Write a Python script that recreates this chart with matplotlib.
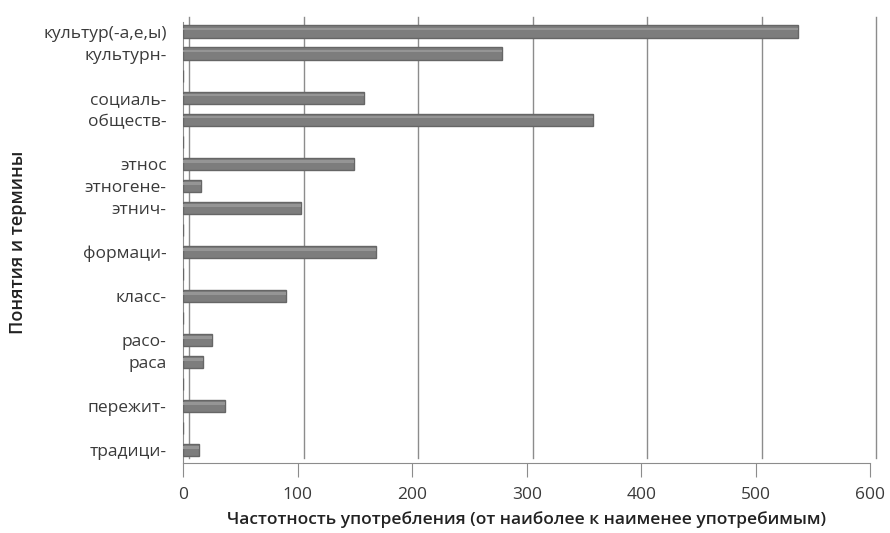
import matplotlib.pyplot as plt
from matplotlib.transforms import ScaledTranslation

plt.rcParams['font.family'] = ['Open Sans', 'DejaVu Sans']

# категории сверху вниз, пустые строки - промежутки между группами
terms = ['культур(-а,е,ы)', 'культурн-', '', 'социаль-', 'обществ-', '',
         'этнос', 'этногене-', 'этнич-', '', 'формаци-', '', 'класс-', '',
         'расо-', 'раса', '', 'пережит-', '', 'традици-']
freq = [537, 278, None, 158, 358, None,
        149, 15, 103, None, 168, None, 90, None,
        25, 17, None, 36, None, 14]
xticks = [0, 100, 200, 300, 400, 500, 600]

fig = plt.figure(figsize=(8.9, 5.33), dpi=100)
ax = fig.add_axes([0.206, 0.131, 0.772, 0.828])

pos = list(range(len(terms)))
vals = [v if v is not None else 0 for v in freq]
ax.barh(pos, vals, height=0.57, color='#7d7d7d', edgecolor='#666666',
        linewidth=1.0, zorder=3)
# блик сверху
ax.barh([p - 0.12 for p in pos], vals, height=0.12, color='#959595',
        linewidth=0, zorder=4)

# сетка на задней стенке (смещена как в 3D)
off = ScaledTranslation(6 / 100, 5 / 100, fig.dpi_scale_trans)
for t in xticks:
    ax.plot([t, t], [0, 1], color='#8c8c8c', lw=1.0, zorder=1,
            transform=ax.get_xaxis_transform() + off, clip_on=False)

ax.set_xlim(0, 600)
ax.set_ylim(19.6, -0.45)
ax.set_xticks(xticks)
ax.set_yticks(pos)
ax.set_yticklabels(terms)

for s in ['top', 'right']:
    ax.spines[s].set_visible(False)
ax.spines['left'].set_color('#8c8c8c')
ax.spines['bottom'].set_color('#8c8c8c')
ax.tick_params(axis='y', length=0, pad=12, labelsize=12.5, colors='#3a3a3a')
ax.tick_params(axis='x', length=10, pad=7, labelsize=12.5, colors='#3a3a3a',
               color='#8c8c8c')

ax.set_xlabel('Частотность употребления (от наиболее к наименее употребимым)',
              fontsize=12.5, fontweight='semibold', color='#222222', labelpad=6)
ax.set_ylabel('Понятия и термины', fontsize=13, fontweight='semibold',
              color='#222222')
ax.yaxis.set_label_coords(-0.228, 0.5)

fig.savefig('out.png', dpi=100)
